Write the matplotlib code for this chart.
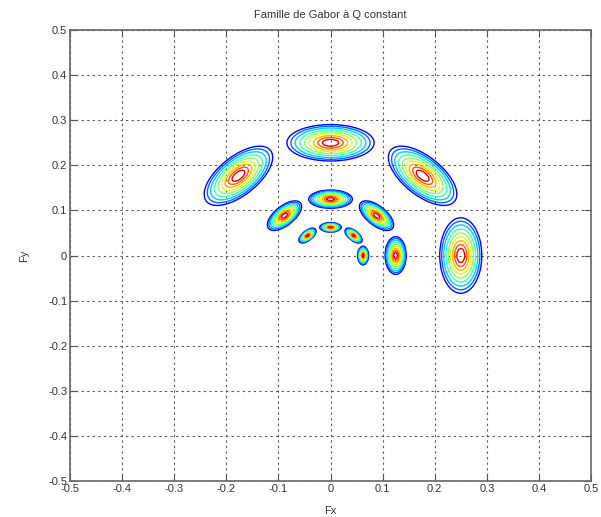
import numpy as np
import matplotlib
matplotlib.use('Agg')
import matplotlib.pyplot as plt

# Famille de filtres de Gabor (domaine fréquentiel)
radii = [0.0625, 0.125, 0.25]          # fréquences centrales
angles_deg = [0, 45, 90, 135]          # orientations
sigma_radial = 0.075                   # largeur radiale / fréquence (Q constant)
sigma_tangential = 0.156               # largeur tangentielle / fréquence
levels = [0.10, 0.15, 0.22, 0.32, 0.44, 0.57, 0.70, 0.82, 0.92]

xticks = [-0.5, -0.4, -0.3, -0.2, -0.1, 0, 0.1, 0.2, 0.3, 0.4, 0.5]
xtick_labels = ['-0.5', '-0.4', '-0.3', '-0.2', '-0.1', '0', '0.1', '0.2', '0.3', '0.4', '0.5']
yticks = xticks
ytick_labels = ['-0.5', '-0.4', '-0.3', '-0.2', '-0.1', '0', '0.1', '0.2', '0.3', '0.4', '0.5']

plt.rcParams['font.family'] = ['Liberation Sans', 'DejaVu Sans']

# Grille fréquentielle
f = np.linspace(-0.5, 0.5, 257)
FX, FY = np.meshgrid(f, f)
Z = np.zeros_like(FX)
for r in radii:
    for a in angles_deg:
        t = np.deg2rad(a)
        u = (FX - r * np.cos(t)) * np.cos(t) + (FY - r * np.sin(t)) * np.sin(t)
        v = -(FX - r * np.cos(t)) * np.sin(t) + (FY - r * np.sin(t)) * np.cos(t)
        sr = sigma_radial * r
        st = sigma_tangential * r
        Z = np.maximum(Z, np.exp(-0.5 * ((u / sr) ** 2 + (v / st) ** 2)))

# couleurs jet réparties sur les niveaux
cmap = plt.get_cmap('jet')
colors = [cmap(0.13 + 0.78 * i / (len(levels) - 1)) for i in range(len(levels))]

fig = plt.figure(figsize=(6.01, 5.17), dpi=100)
ax = fig.add_axes([0.1165, 0.0696, 0.8669, 0.8723])

ax.contour(FX, FY, Z, levels=levels, colors=colors, linewidths=1.0)

ax.set_xlim(-0.5, 0.5)
ax.set_ylim(-0.5, 0.5)
ax.set_xticks(xticks)
ax.set_xticklabels(xtick_labels)
ax.set_yticks(yticks)
ax.set_yticklabels(ytick_labels)
ax.grid(True, color='#555555', linestyle=(0, (2, 3)), linewidth=0.8)
ax.tick_params(direction='in', length=5, top=True, right=True,
               labelsize=8, labelcolor='#333333', color='#555555', pad=2)
for sp in ax.spines.values():
    sp.set_color('#666666')
    sp.set_linewidth(1.2)

ax.set_xlabel('Fx', fontsize=8, color='#333333', labelpad=9)
ax.set_ylabel('Fy', fontsize=8, color='#333333', labelpad=14)
ax.set_title('Famille de Gabor à Q constant', fontsize=8, color='#333333', pad=9)

plt.savefig('out.png', dpi=100)
